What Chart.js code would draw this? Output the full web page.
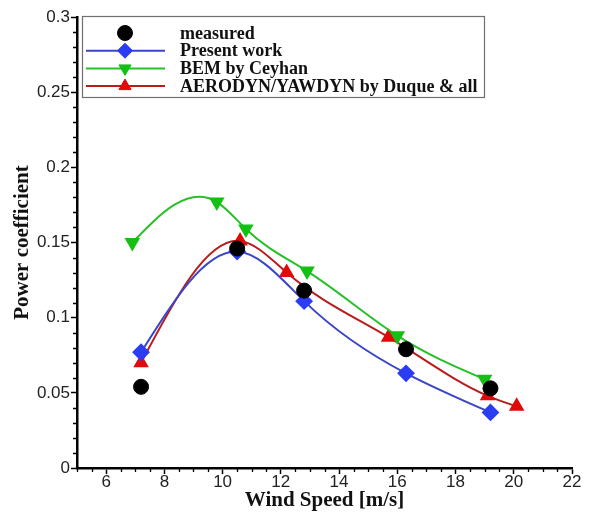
<!DOCTYPE html>
<html>
<head>
<meta charset="utf-8">
<script src="https://cdn.jsdelivr.net/npm/chart.js@4/dist/chart.umd.min.js"></script>
<style>
html,body{margin:0;padding:0;background:#fff;}
#wrap{width:589px;height:513px;position:relative;}
</style>
</head>
<body>
<div id="wrap"><canvas id="c" width="589" height="513"></canvas></div>
<script>
// ---- data ----
const seriesNames = ["measured", "Present work", "BEM by Ceyhan", "AERODYN/YAWDYN by Duque & all"];

const measuredX = [7.2, 10.5, 12.8, 16.3, 19.2];
const measuredY = [0.054, 0.146, 0.118, 0.079, 0.053];

const presentX = [7.2, 10.5, 12.8, 16.3, 19.2];
const presentY = [0.077, 0.144, 0.111, 0.063, 0.037];

const bemX = [6.9, 9.8, 10.8, 12.9, 16.0, 19.0];
const bemY = [0.150, 0.177, 0.159, 0.131, 0.088, 0.059];

const aeroX = [7.2, 10.6, 12.2, 15.7, 19.1, 20.1];
const aeroY = [0.070, 0.151, 0.130, 0.087, 0.048, 0.041];

const xMajorTicks = [6, 8, 10, 12, 14, 16, 18, 20, 22];
const yMajorTicks = [0, 0.05, 0.1, 0.15, 0.2, 0.25, 0.3];
const yTickLabels = ["0", "0.05", "0.1", "0.15", "0.2", "0.25", "0.3"];

const toPts = (xs, ys) => xs.map((x, i) => ({x: x, y: ys[i]}));

// Replace Chart.js' tension control points with those of a natural cubic spline
// (computed on the pixel positions the library assigned to the points).
const naturalSpline = {
  id: 'naturalSpline',
  beforeDatasetDraw(chart, args) {
    const ds = chart.data.datasets[args.index];
    if (!ds.naturalSpline) return;
    const meta = args.meta;
    const line = meta.dataset;
    if (!line) return;
    line.updateControlPoints(chart.chartArea, meta.iScale.axis);
    const pts = meta.data;
    const n = pts.length;
    if (n < 3) return;
    const x = pts.map(p => p.x), y = pts.map(p => p.y);
    const h = [], s = [];
    for (let i = 0; i < n - 1; i++) { h.push(x[i + 1] - x[i]); s.push((y[i + 1] - y[i]) / h[i]); }
    const m = n - 2;
    const a = [], b = [], c = [], d = [];
    for (let k = 0; k < m; k++) {
      const i = k + 1;
      a.push(h[i - 1]); b.push(2 * (h[i - 1] + h[i])); c.push(h[i]); d.push(6 * (s[i] - s[i - 1]));
    }
    for (let k = 1; k < m; k++) {
      const w = a[k] / b[k - 1];
      b[k] -= w * c[k - 1];
      d[k] -= w * d[k - 1];
    }
    const M = new Array(n).fill(0);
    for (let k = m - 1; k >= 0; k--) {
      M[k + 1] = (d[k] - (k < m - 1 ? c[k] * M[k + 2] : 0)) / b[k];
    }
    for (let i = 0; i < n - 1; i++) {
      const d0 = s[i] - h[i] * (2 * M[i] + M[i + 1]) / 6;
      const d1 = s[i] + h[i] * (M[i] + 2 * M[i + 1]) / 6;
      pts[i].cp2x = x[i] + h[i] / 3;
      pts[i].cp2y = y[i] + d0 * h[i] / 3;
      pts[i + 1].cp1x = x[i + 1] - h[i] / 3;
      pts[i + 1].cp1y = y[i + 1] - d1 * h[i] / 3;
    }
    pts[0].cp1x = x[0]; pts[0].cp1y = y[0];
    pts[n - 1].cp2x = x[n - 1]; pts[n - 1].cp2y = y[n - 1];
  }
};

const minorTicks = {
  id: 'minorTicks',
  afterDraw(chart) {
    const ctx = chart.ctx;
    const xs = chart.scales.x, ys = chart.scales.y;
    ctx.save();
    ctx.strokeStyle = '#000';
    ctx.lineWidth = 1.3;
    ctx.beginPath();
    for (let v = 5; v <= 22.001; v += 0.5) {
      if (Math.abs(v / 2 - Math.round(v / 2)) < 1e-6) continue;
      const px = Math.round(xs.getPixelForValue(v)) + 0.5;
      ctx.moveTo(px, xs.top); ctx.lineTo(px, xs.top + 4);
    }
    for (let i = 0; i <= 30; i++) {
      if (i % 5 === 0) continue;
      const py = Math.round(ys.getPixelForValue(i / 100)) + 0.5;
      ctx.moveTo(ys.right, py); ctx.lineTo(ys.right - 4, py);
    }
    ctx.stroke();
    ctx.restore();
  }
};

const boxLegend = {
  id: 'boxLegend',
  afterDraw(chart) {
    const ctx = chart.ctx;
    const a = chart.chartArea;
    const left = a.left + 5, top = a.top - 1, w = 402, h = 81;
    ctx.save();
    ctx.fillStyle = '#fff';
    ctx.fillRect(left, top, w, h);
    ctx.strokeStyle = '#707070';
    ctx.lineWidth = 1.2;
    ctx.strokeRect(left + 0.5, top + 0.5, w, h);
    ctx.font = 'bold 18px "Liberation Serif", "Times New Roman", serif';
    ctx.textBaseline = 'middle';
    ctx.fillStyle = '#111';
    chart.data.datasets.forEach((ds, i) => {
      const y = top + 17 + i * 17.7;
      if (ds.showLine !== false) {
        ctx.strokeStyle = ds.borderColor;
        ctx.lineWidth = 2;
        ctx.beginPath();
        ctx.moveTo(left + 4, y); ctx.lineTo(left + 83, y);
        ctx.stroke();
      }
      ctx.fillStyle = ds.pointBackgroundColor;
      ctx.strokeStyle = ds.pointBackgroundColor;
      ctx.lineWidth = 1;
      Chart.helpers.drawPoint(ctx, {pointStyle: ds.pointStyle, radius: ds.pointRadius, rotation: ds.pointRotation || 0, borderWidth: 1}, left + 43, y);
      ctx.fillStyle = '#111';
      ctx.fillText(ds.label, left + 98, y + 1);
    });
    ctx.restore();
  }
};

new Chart(document.getElementById('c'), {
  type: 'line',
  data: {
    datasets: [
      {label: seriesNames[0], data: toPts(measuredX, measuredY), showLine: false,
       pointStyle: 'circle', pointRadius: 7.5, pointBackgroundColor: '#000', pointBorderColor: '#000', borderColor: '#000'},
      {label: seriesNames[1], data: toPts(presentX, presentY), tension: 0.4, naturalSpline: true,
       borderColor: '#3a46c8', borderWidth: 2, pointStyle: 'rectRot', pointRadius: 7.5,
       pointBackgroundColor: '#2c3cf2', pointBorderColor: '#2c3cf2'},
      {label: seriesNames[2], data: toPts(bemX, bemY), tension: 0.4, naturalSpline: true,
       borderColor: '#28c028', borderWidth: 2, pointStyle: 'triangle', pointRotation: 180, pointRadius: 7,
       pointBackgroundColor: '#14c014', pointBorderColor: '#14c014'},
      {label: seriesNames[3], data: toPts(aeroX, aeroY), tension: 0.4, naturalSpline: true,
       borderColor: '#b81c1c', borderWidth: 2, pointStyle: 'triangle', pointRadius: 7,
       pointBackgroundColor: '#e00a0a', pointBorderColor: '#e00a0a'}
    ]
  },
  options: {
    responsive: false,
    animation: false,
    layout: {padding: {top: 17, right: 17, left: 0, bottom: 0}},
    plugins: {legend: {display: false}, tooltip: {enabled: false}},
    scales: {
      x: {
        type: 'linear', min: 5, max: 22,
        afterBuildTicks: s => { s.ticks = xMajorTicks.map(v => ({value: v})); },
        afterFit: s => { s.height = 513 - 468; },
        border: {display: true, color: '#000', width: 2.5},
        grid: {drawOnChartArea: false, drawTicks: true, tickLength: 6, tickColor: '#000', tickWidth: 1.5},
        ticks: {color: '#222', font: {family: '"Liberation Sans", Arial, sans-serif', size: 17}, padding: -2, maxRotation: 0},
        title: {display: true, text: 'Wind Speed [m/s]', color: '#111',
                font: {family: '"Liberation Serif", "Times New Roman", serif', weight: 'bold', size: 21}, padding: {top: -5, bottom: 0}}
      },
      y: {
        type: 'linear', min: 0, max: 0.3,
        afterBuildTicks: s => { s.ticks = yMajorTicks.map(v => ({value: v})); },
        afterFit: s => { s.width = 77; },
        border: {display: true, color: '#000', width: 2.5},
        grid: {drawOnChartArea: false, drawTicks: true, tickLength: 6, tickColor: '#000', tickWidth: 1.5},
        ticks: {color: '#222', font: {family: '"Liberation Sans", Arial, sans-serif', size: 17}, padding: 1,
                callback: (v) => yTickLabels[yMajorTicks.findIndex(t => Math.abs(t - v) < 1e-9)]},
        title: {display: true, text: 'Power coefficient', color: '#111',
                font: {family: '"Liberation Serif", "Times New Roman", serif', weight: 'bold', size: 21}, padding: {top: 10, bottom: 0}}
      }
    }
  },
  plugins: [naturalSpline, minorTicks, boxLegend]
});
</script>
</body>
</html>
